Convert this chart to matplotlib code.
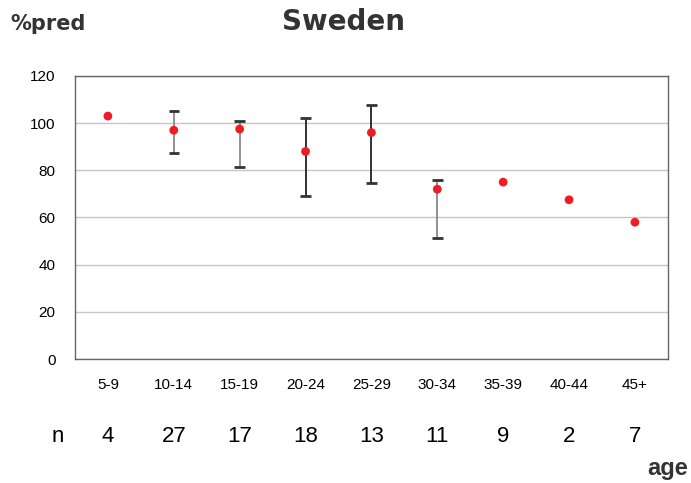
import numpy as np
import matplotlib.pyplot as plt

edades = ["5-9", "10-14", "15-19", "20-24", "25-29", "30-34", "35-39", "40-44", "45+"]
n_casos = [4, 27, 17, 18, 13, 11, 9, 2, 7]
media = [103, 97, 97.5, 88, 96, 72, 75, 67.5, 58]
sup = [np.nan, 105, 101, 102, 107.5, 76, np.nan, np.nan, np.nan]
inf = [np.nan, 87.5, 81.5, 69, 74.5, 51.5, np.nan, np.nan, np.nan]
color_barra = ['#333333', '#888888', '#888888', '#222222', '#222222', '#888888', '#333333', '#333333', '#333333']

estrecha = ['Liberation Sans Narrow', 'Liberation Sans', 'DejaVu Sans']

fig = plt.figure(figsize=(6.91, 4.83), dpi=100)
ax = fig.add_axes([0.1085, 0.2567, 0.858, 0.586])

x = np.arange(len(edades)) + 0.5

for i in range(len(edades)):
    if not np.isnan(sup[i]):
        ax.vlines(x[i], inf[i], sup[i], color=color_barra[i], lw=1.3, zorder=2)
        ax.hlines([inf[i], sup[i]], x[i] - 0.08, x[i] + 0.08, color='#333333', lw=2, zorder=2)

ax.scatter(x, media, color='#ee1c25', s=40, zorder=3, edgecolors='none')

ax.set_xlim(0, 9)
ax.set_ylim(0, 120)
ax.set_yticks(range(0, 121, 20))
ax.set_xticks(x)
ax.set_xticklabels(edades, fontsize=11, family=estrecha)
for t in ax.get_yticklabels():
    t.set_family(estrecha)
ax.tick_params(axis='y', labelsize=11, length=0, pad=14)
ax.tick_params(axis='x', length=0, pad=14)
ax.yaxis.grid(True, color='#cdc3c3', lw=1)
ax.set_axisbelow(True)
for s in ax.spines.values():
    s.set_color('#666666')
    s.set_linewidth(1)

# fila de n
fig.text(58 / 691, 1 - 437 / 483, "n", fontsize=16, va='center', ha='center', family=estrecha)
for i in range(len(edades)):
    fig.text((75 + x[i] * 593 / 9) / 691, 1 - 437 / 483, str(n_casos[i]), fontsize=16,
             va='center', ha='center', family=estrecha)

fig.text(343 / 691, 1 - 22 / 483, "Sweden", fontsize=20, fontweight='bold', color='#333333', ha='center', va='center')
fig.text(10 / 691, 1 - 24 / 483, "%pred", fontsize=15, fontweight='bold', color='#333333', ha='left', va='center')
fig.text(688 / 691, 1 - 469 / 483, "age", fontsize=17, fontweight='bold', color='#333333', ha='right', va='center',
         family=estrecha)

plt.savefig("out.png", dpi=100)
